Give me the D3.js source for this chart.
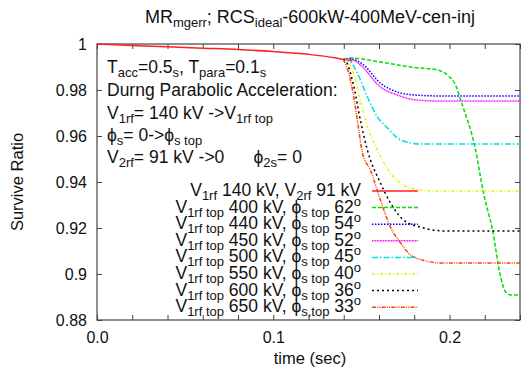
<!DOCTYPE html>
<html lang="en">
<head>
<meta charset="utf-8">
<title>Survive Ratio</title>
<script src="https://d3js.org/d3.v7.min.js"></script>
<style>
  body { margin: 0; background: #fff; }
  svg { font-family: "Liberation Sans", Arial, sans-serif; }
  svg text { white-space: pre; }
  .axis path { display: none; }
  .axis line { stroke: #444; }
  .axis text { font-size: 16px; fill: #111; }
</style>
</head>
<body>
<div id="chart"></div>
<script>
// ---- data ----
const xTicks = [0, 0.02, 0.04, 0.06, 0.08, 0.1, 0.12, 0.14, 0.16, 0.18, 0.2, 0.22, 0.24];
const xTickLabels = {"0": "0.0", "0.1": "0.1", "0.2": "0.2"};
const yTicks = [1, 0.98, 0.96, 0.94, 0.92, 0.9, 0.88];
const yTickLabels = ["1", "0.98", "0.96", "0.94", "0.92", "0.9", "0.88"];

// common slow decay before the branches
const common = [[0, 1.0], [0.02, 0.9993], [0.04, 0.9988], [0.06, 0.9982], [0.08, 0.9976],
                [0.1, 0.9967], [0.12, 0.9955], [0.135, 0.9940], [0.1398, 0.9933]];

const refCurve = [[0.1398, 0.9933], [0.145, 0.9926]];
const v400 = [[0.1438, 0.9939], [0.1608, 0.9922], [0.1778, 0.99], [0.1932, 0.9887], [0.1994, 0.9861],
              [0.2034, 0.9822], [0.2063, 0.9757], [0.2148, 0.9539], [0.2193, 0.9352], [0.2244, 0.9191],
              [0.229, 0.8987], [0.2318, 0.8922], [0.2347, 0.8909], [0.2403, 0.8909]];
const v440 = [[0.1438, 0.9935], [0.1506, 0.9913], [0.1608, 0.983], [0.1705, 0.9791], [0.1807, 0.9778],
              [0.1949, 0.9774], [0.2403, 0.9774]];
const v450 = [[0.1438, 0.9935], [0.1494, 0.9909], [0.1608, 0.9813], [0.1705, 0.9778], [0.1807, 0.9757],
              [0.1949, 0.9752], [0.2403, 0.9752]];
const v500 = [[0.1426, 0.993], [0.1477, 0.9874], [0.1534, 0.977], [0.1591, 0.9683], [0.1648, 0.9635],
              [0.1722, 0.9583], [0.1835, 0.9565], [0.2403, 0.9565]];
const v550 = [[0.1415, 0.993], [0.1449, 0.9887], [0.1494, 0.9757], [0.1523, 0.967], [0.1591, 0.9539],
              [0.1665, 0.9439], [0.1739, 0.9387], [0.1835, 0.9365], [0.1949, 0.936], [0.2403, 0.936]];
const v600 = [[0.1415, 0.9922], [0.1455, 0.9822], [0.1494, 0.967], [0.1534, 0.9539], [0.1608, 0.9396],
              [0.1665, 0.9309], [0.1739, 0.9235], [0.1852, 0.92], [0.1977, 0.9187], [0.2403, 0.9187]];
const v650 = [[0.1398, 0.9933], [0.1438, 0.9843], [0.1466, 0.9726], [0.1477, 0.967], [0.1506, 0.9526],
              [0.1551, 0.9452], [0.1608, 0.9322], [0.1665, 0.9204], [0.1722, 0.9135], [0.1778, 0.9083],
              [0.1864, 0.9057], [0.1949, 0.9048], [0.2403, 0.9048]];

const vTop = [null, 400, 440, 450, 500, 550, 600, 650];
const phiTop = [null, 62, 54, 52, 45, 40, 36, 33];
const seriesData = [refCurve, v400, v440, v450, v500, v550, v600, v650];
const colors = ["#ff2020", "#00e000", "#0000ff", "#ff00ff", "#00e0e0", "#f0f000", "#000000", "#ff4000"];
const dashes = [null, "4,2", "1.5,1.5", "1,0.6", "6,2,1.5,2", "3,2,1,2", "2,3", "4,1.2,1,1.2,1,1.2"];

// ---- layout ----
const W = 531, H = 371;
const margin = {top: 44, right: 11, bottom: 51, left: 97};
const width = W - margin.left - margin.right,
      height = H - margin.top - margin.bottom;

const svg = d3.select("#chart").append("svg")
    .attr("width", W).attr("height", H);
const g = svg.append("g")
    .attr("transform", `translate(${margin.left},${margin.top})`);

const x = d3.scaleLinear().domain([0, 0.24]).range([0, width]);
const y = d3.scaleLinear().domain([0.88, 1]).range([height, 0]);

// helper: text with sub/superscripts, parts = [[str, kind], ...]
function richText(sel, parts, big, small) {
  let shift = 0;
  parts.forEach(([s, kind]) => {
    let target = kind === "sub" ? 4 : kind === "sup" ? -7 : 0;
    sel.append("tspan")
      .attr("dy", target - shift)
      .style("font-size", (kind ? small : big) + "px")
      .text(s);
    shift = target;
  });
}

// axes (ticks pointing inward)
g.append("g").attr("class", "axis")
  .attr("transform", `translate(0,${height})`)
  .call(d3.axisBottom(x).tickValues(xTicks).tickSizeInner(-5).tickSizeOuter(0).tickPadding(12)
    .tickFormat(d => xTickLabels[String(+d.toFixed(2))] || ""));
g.append("g").attr("class", "axis")
  .call(d3.axisTop(x).tickValues(xTicks).tickSizeInner(-5).tickSizeOuter(0).tickFormat(""));
g.append("g").attr("class", "axis")
  .call(d3.axisLeft(y).tickValues(yTicks).tickSizeInner(-5).tickSizeOuter(0).tickPadding(10)
    .tickFormat((d, i) => yTickLabels[i]));
g.append("g").attr("class", "axis")
  .attr("transform", `translate(${width},0)`)
  .call(d3.axisRight(y).tickValues(yTicks).tickSizeInner(-5).tickSizeOuter(0).tickFormat(""));

g.append("rect")
  .attr("width", width).attr("height", height)
  .attr("fill", "none").attr("stroke", "#444").attr("stroke-width", 1.2);

// curves
const line = d3.line().x(d => x(d[0])).y(d => y(d[1])).curve(d3.curveMonotoneX);

g.append("path")
  .datum(common)
  .attr("d", line)
  .attr("fill", "none").attr("stroke", colors[0]).attr("stroke-width", 1.5);

seriesData.forEach((s, i) => {
  g.append("path")
    .datum(i === 0 ? s : [common[common.length - 1]].concat(s))
    .attr("d", line)
    .attr("fill", "none")
    .attr("stroke", colors[i])
    .attr("stroke-width", 1.5)
    .attr("stroke-dasharray", dashes[i]);
});

// annotation
const notes = [
  [["T", ""], ["acc", "sub"], ["=0.5", ""], ["s", "sub"], [", T", ""], ["para", "sub"], ["=0.1", ""], ["s", "sub"]],
  [["Durng Parabolic Acceleration:", ""]],
  [["V", ""], ["1rf", "sub"], ["= 140 kV ->V", ""], ["1rf top", "sub"]],
  [["ϕ", ""], ["s", "sub"], ["= 0->ϕ", ""], ["s top", "sub"]],
  [["V", ""], ["2rf", "sub"], ["= 91 kV ->0      ϕ", ""], ["2s", "sub"], ["= 0", ""]]
];
const noteY = [73, 96, 119, 141, 163];
notes.forEach((parts, i) => {
  const t = svg.append("text").attr("x", 107).attr("y", noteY[i]).attr("fill", "#111");
  richText(t, parts, 17.5, 13);
});

// legend
const legendX = 361, legendY0 = 196, legendStep = 16.6;
seriesData.forEach((s, i) => {
  const ly = legendY0 + i * legendStep;
  const parts = i === 0
    ? [["V", ""], ["1rf", "sub"], [" 140 kV, V", ""], ["2rf", "sub"], [" 91 kV", ""]]
    : [["V", ""], ["1rf top", "sub"], [` ${vTop[i]} kV, ϕ`, ""], [i === 7 ? "s,top" : "s top", "sub"],
       [` ${phiTop[i]}`, ""], ["o", "sup"]];
  const t = svg.append("text").attr("x", legendX).attr("y", ly)
    .attr("text-anchor", "end").attr("fill", "#111");
  richText(t, parts, 17.5, 13);
  svg.append("line")
    .attr("x1", 372).attr("x2", 418)
    .attr("y1", ly - 5).attr("y2", ly - 5)
    .attr("stroke", colors[i]).attr("stroke-width", 1.5)
    .attr("stroke-dasharray", dashes[i]);
});

// title and axis labels
const title = svg.append("text").attr("x", 310).attr("y", 23)
  .attr("text-anchor", "middle").attr("fill", "#111");
richText(title, [["MR", ""], ["mgerr", "sub"], ["; RCS", ""], ["ideal", "sub"], ["-600kW-400MeV-cen-inj", ""]], 18, 13);

svg.append("text").attr("x", 310).attr("y", 364)
  .attr("text-anchor", "middle").attr("fill", "#111").style("font-size", "16.5px")
  .text("time (sec)");
svg.append("text")
  .attr("transform", "translate(23,182) rotate(-90)")
  .attr("text-anchor", "middle").attr("fill", "#111").style("font-size", "16.5px")
  .text("Survive Ratio");
</script>
</body>
</html>
